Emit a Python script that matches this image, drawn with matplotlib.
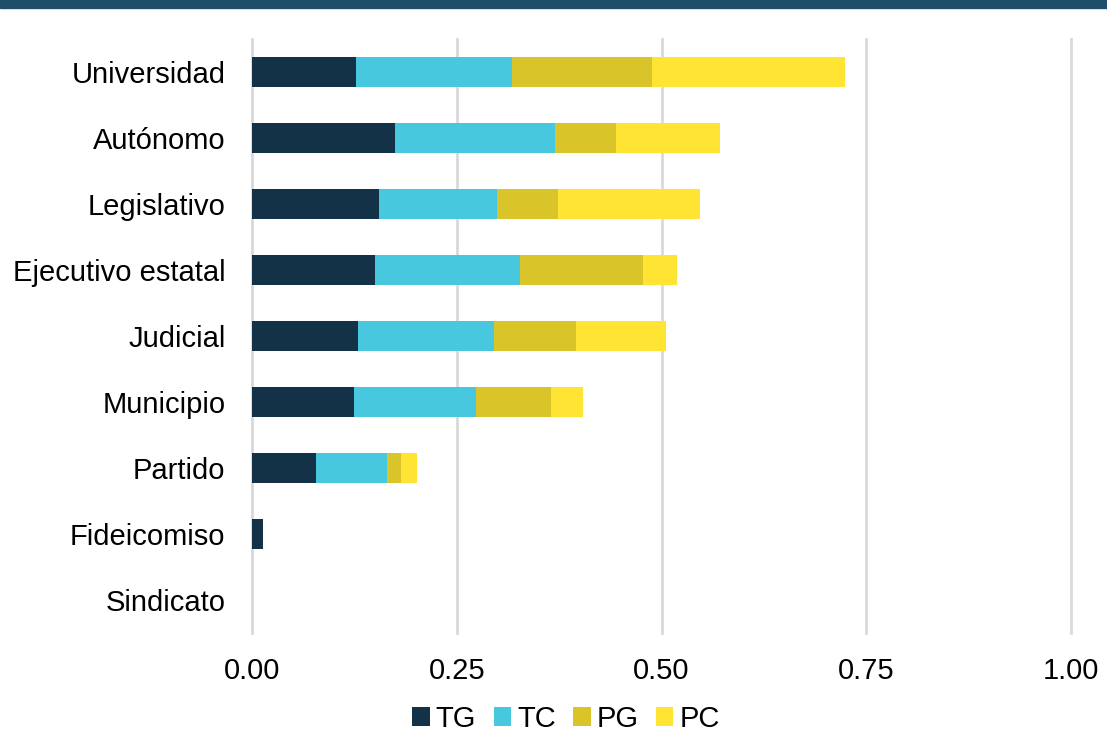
import matplotlib
matplotlib.use("Agg")
import matplotlib.pyplot as plt
from matplotlib.patches import Rectangle

categories = ["Universidad", "Autónomo", "Legislativo", "Ejecutivo estatal",
              "Judicial", "Municipio", "Partido", "Fideicomiso", "Sindicato"]
series_names = ["TG", "TC", "PG", "PC"]
TG = [0.127, 0.175, 0.155, 0.150, 0.129, 0.125, 0.078, 0.013, 0.0]
TC = [0.190, 0.195, 0.144, 0.177, 0.167, 0.149, 0.087, 0.0, 0.0]
PG = [0.171, 0.075, 0.075, 0.151, 0.100, 0.091, 0.017, 0.0, 0.0]
PC = [0.236, 0.127, 0.173, 0.041, 0.110, 0.039, 0.019, 0.0, 0.0]
x_ticks = [0.0, 0.25, 0.5, 0.75, 1.0]
x_tick_labels = ["0.00", "0.25", "0.50", "0.75", "1.00"]

colors = ["#143247", "#48C8DE", "#D9C42A", "#FFE433"]

plt.rcParams["font.family"] = ["Liberation Sans", "DejaVu Sans"]
fig = plt.figure(figsize=(11.07, 7.37), dpi=100)
ax = fig.add_axes([252/1107, 1 - 633/737, (1071-252)/1107, (633-39)/737])

# top band
fig.patches.append(Rectangle((0, 1 - 8/737), 1, 8/737, transform=fig.transFigure,
                             color="#1F4E6B", zorder=10))

y = list(range(len(categories)))
left = [0.0] * len(categories)
for name, vals, c in zip(series_names, [TG, TC, PG, PC], colors):
    ax.barh(y, vals, left=left, height=0.44, color=c, label=name, zorder=3)
    left = [l + v for l, v in zip(left, vals)]

ax.set_xlim(0, 1.0)
ax.set_ylim(len(categories) - 0.5, -0.5)
ax.set_yticks(y)
ax.set_yticklabels(categories)
ax.set_xticks(x_ticks)
ax.set_xticklabels(x_tick_labels)
ax.tick_params(axis="both", length=0, labelsize=21, colors="black")
ax.tick_params(axis="y", pad=19)
ax.tick_params(axis="x", pad=17)
ax.grid(axis="x", color="#D9D9D9", linewidth=2, zorder=0)
for gl in ax.get_xgridlines():
    gl.set_clip_on(False)
for s in ax.spines.values():
    s.set_visible(False)

leg = fig.legend(loc="center", bbox_to_anchor=(566/1107, 1 - 719/737), ncol=4,
                 frameon=False, fontsize=21, handlelength=0.6, handleheight=0.6,
                 handletextpad=0.2, columnspacing=0.6)

fig.savefig("out.png", dpi=100)
